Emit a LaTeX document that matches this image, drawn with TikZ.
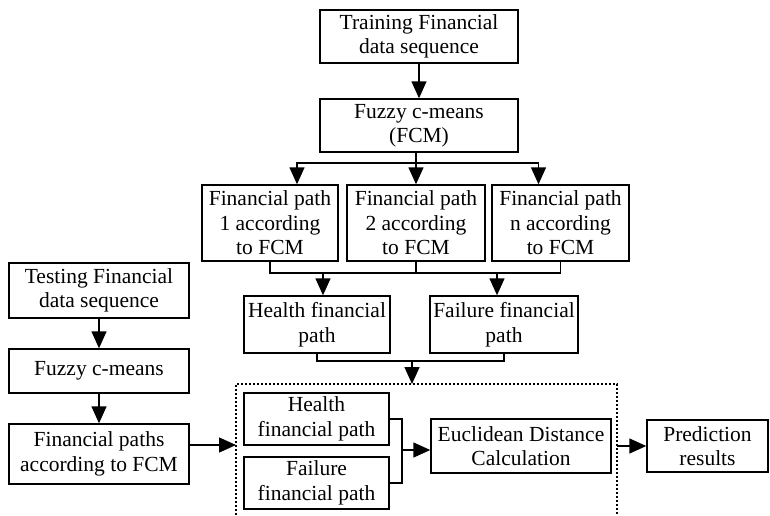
\documentclass[tikz,border=0pt]{standalone}
\usepackage{fontspec}
\setmainfont{Liberation Serif}
\usetikzlibrary{arrows.meta, positioning, calc}
\tikzset{
  line/.style={draw=black, line width=1.4pt},
  arrow/.style={draw=black, line width=1.4pt, -{Triangle[length=17pt, width=15pt]}},
  block/.style={draw=black, line width=1.4pt, rectangle, align=center, inner sep=0pt, font=\fontsize{21.5}{24.5}\selectfont},
  dashbox/.style={draw=black, line width=1.2pt, dash pattern=on 2pt off 2pt}
}

\begin{document}
\begin{tikzpicture}[x=1pt, y=-1pt]
  \useasboundingbox (0,0) rectangle (770,515);

  % training branch
  \node [block, minimum width=198pt, minimum height=53pt] (train) at (419,36.5) {Training Financial\\data sequence};
  \node [block, minimum width=198pt, minimum height=53pt] (fcm) at (419,125.5) {Fuzzy c-means\\(FCM)};
  \node [block, minimum width=136pt, minimum height=76pt] (p1) at (270,223) {Financial path\\1 according\\to FCM};
  \node [block, minimum width=138pt, minimum height=76pt] (p2) at (416,223) {Financial path\\2 according\\to FCM};
  \node [block, minimum width=137pt, minimum height=76pt] (pn) at (560.5,223) {Financial path\\n according\\to FCM};
  \node [block, minimum width=146pt, minimum height=57pt] (health) at (317,324.5) {Health financial\\path};
  \node [block, minimum width=148pt, minimum height=57pt] (fail) at (504,324.5) {Failure financial\\path};

  % testing branch
  \node [block, minimum width=180pt, minimum height=55pt] (test) at (99,290.5) {Testing Financial\\data sequence};
  \node [block, minimum width=180pt, minimum height=44pt] (tfcm) at (99,371) {Fuzzy c-means};
  \node [block, minimum width=180pt, minimum height=60pt] (tpaths) at (99,454) {Financial paths\\according to FCM};

  % comparison
  \node [block, minimum width=145pt, minimum height=52pt] (ihealth) at (316.5,419) {Health\\financial path};
  \node [block, minimum width=145pt, minimum height=52pt] (ifail) at (316.5,483) {Failure\\financial path};
  \node [block, minimum width=180pt, minimum height=54pt] (eucl) at (521,446) {Euclidean Distance\\Calculation};
  \node [block, minimum width=121pt, minimum height=52pt] (pred) at (707.5,446) {Prediction\\results};

  \coordinate (f1) at (416,163);
  \coordinate (m1) at (416,273);
  \coordinate (m2) at (412,361);
  \coordinate (br) at (402,450);
  \coordinate (dtl) at (236,384);
  \coordinate (dtr) at (617,384);

  \draw [dashbox] (dtl |- 0,515) -- (dtl) -- (dtr) -- (dtr |- 0,515);

  \draw [arrow] (train) -- (fcm);
  \draw [line] (fcm.south -| f1) -- (f1);
  \draw [arrow] (f1) -| ([xshift=27pt]p1.north);
  \draw [arrow] (f1) -- (p2.north);
  \draw [arrow] (f1) -| ([xshift=-22pt]pn.north);

  \draw [line] (p1.south) |- (m1) -| (pn.south);
  \draw [line] (p2.south) -- (m1);
  \draw [arrow] ([xshift=6pt]health.north |- m1) -- ([xshift=6pt]health.north);
  \draw [arrow] ([xshift=-7pt]fail.north |- m1) -- ([xshift=-7pt]fail.north);

  \draw [line] (health.south) |- (m2) -| (fail.south);
  \draw [arrow] (m2) -- (m2 |- dtl);

  \draw [arrow] (test) -- (tfcm);
  \draw [arrow] (tfcm) -- (tpaths);
  \draw [arrow] ([yshift=9pt]tpaths.east) -- ([yshift=9pt]tpaths.east -| dtl);

  \draw [line] (ihealth.east) -| (br) |- (ifail.east);
  \draw [arrow] (br) -- (br -| eucl.west);
  \draw [arrow] (dtr |- pred) -- (pred);
\end{tikzpicture}
\end{document}
